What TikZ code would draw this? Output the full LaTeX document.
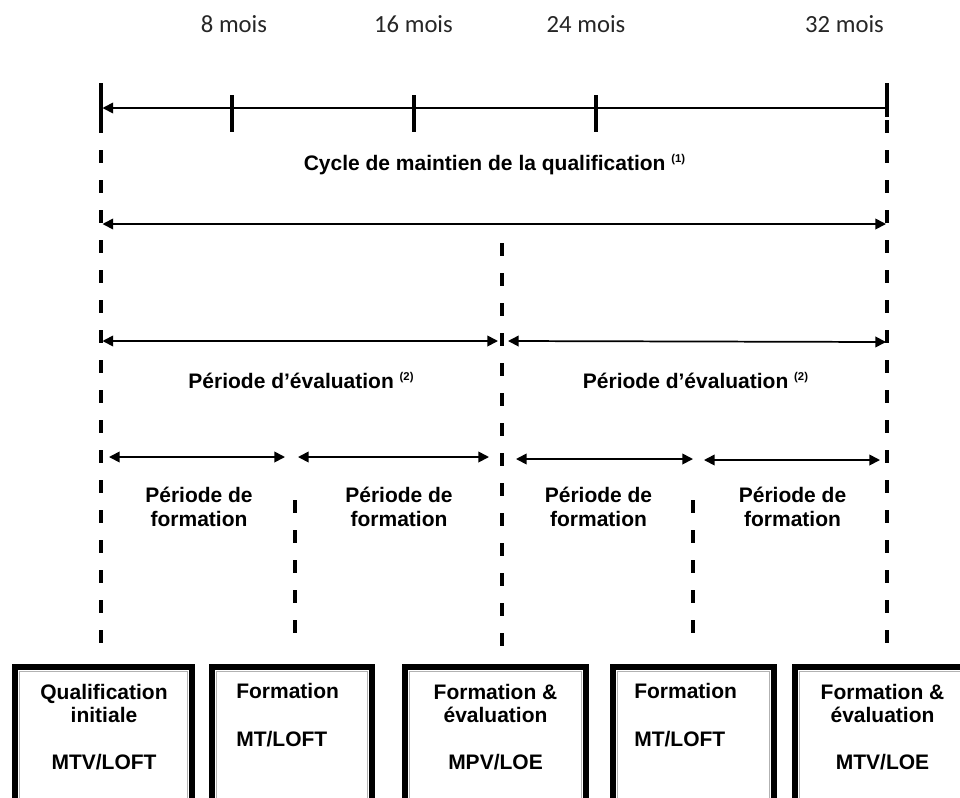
\documentclass[tikz,border=0pt]{standalone}
\usepackage{fontspec}
\setmainfont{Liberation Sans}
\newfontfamily\calib{Carlito}
\usetikzlibrary{arrows.meta}
\newcommand\supr[1]{\raisebox{6pt}{\fontsize{8.5}{9}\selectfont(#1)}}
\begin{document}
\begin{tikzpicture}[x=0.75pt,y=-0.75pt,
  axis/.style={line width=1.3pt},
  tickmark/.style={line width=2.6pt},
  guide/.style={line width=2.4pt, dash pattern=on 9.75pt off 12.75pt},
  span/.style={line width=1.3pt, {Triangle[length=8pt,width=8pt]}-{Triangle[length=8pt,width=8pt]}},
  month/.style={font=\calib\fontsize{18.5}{22}\selectfont, text=black!85, inner sep=0pt, anchor=base},
  lbl/.style={font=\bfseries\fontsize{15.75}{18}\selectfont, inner sep=0pt, anchor=base, align=center},
  boxouter/.style={line width=4.5pt},
  boxinner/.style={line width=0.6pt, draw=gray!60},
  boxtext/.style={font=\bfseries\fontsize{15.75}{17.5}\selectfont, inner sep=0pt, anchor=base},
]
\useasboundingbox (0,0) rectangle (960,797);
\clip (0,0) rectangle (960,797);
\fill[white] (0,0) rectangle (960,797);

% month labels
\node[month] (m8) at (234,32) {8 mois};
\node[month] (m16) at (413.5,32) {16 mois};
\node[month] (m24) at (586,32) {24 mois};
\node[month] (m32) at (844.5,32) {32 mois};

% timeline
\coordinate (t0) at (102.5,108);
\coordinate (t32) at (887,108);
\draw[axis, {Triangle[length=8pt,width=8pt]}-] (t0) -- (t32);
\coordinate (k0a) at (101,83);  \coordinate (k0b) at (101,132);
\coordinate (k1a) at (232,95);  \coordinate (k1b) at (232,132);
\coordinate (k2a) at (414,95);  \coordinate (k2b) at (414,132);
\coordinate (k3a) at (596,95);  \coordinate (k3b) at (596,132);
\coordinate (k4a) at (887,83);  \coordinate (k4b) at (887,117);
\foreach \k in {0,...,4} \draw[tickmark] (k\k a) -- (k\k b);

% dashed guides
\coordinate (g0a) at (101,120); \coordinate (g0b) at (101,646);
\coordinate (g4a) at (887,120); \coordinate (g4b) at (887,646);
\coordinate (g2a) at (502,243); \coordinate (g2b) at (502,646);
\coordinate (g1a) at (295,500); \coordinate (g1b) at (295,646);
\coordinate (g3a) at (693,500); \coordinate (g3b) at (693,646);
\foreach \g in {0,...,4} \draw[guide] (g\g a) -- (g\g b);

% cycle
\node[lbl] (cyc) at (494.5,170) {Cycle de maintien de la qualification \supr{1}};
\coordinate (c0) at (102.5,224); \coordinate (c1) at (886,224);
\draw[span] (c0) -- (c1);

% evaluation periods
\coordinate (e0) at (102.5,341); \coordinate (e1) at (498,341);
\coordinate (e2) at (508,341);   \coordinate (e3) at (886,342);
\draw[span] (e0) -- (e1);
\draw[span] (e2) -- (e3);
\node[lbl] (ev1) at (301,388) {Période d’évaluation \supr{2}};
\node[lbl] (ev2) at (695.5,388) {Période d’évaluation \supr{2}};

% formation periods
\coordinate (f0) at (109,457); \coordinate (f1) at (285,457);
\coordinate (f2) at (298,457); \coordinate (f3) at (489,457);
\coordinate (f4) at (516,459); \coordinate (f5) at (693,459);
\coordinate (f6) at (704,460); \coordinate (f7) at (880,460);
\draw[span] (f0) -- (f1);
\draw[span] (f2) -- (f3);
\draw[span] (f4) -- (f5);
\draw[span] (f6) -- (f7);
\node[lbl] (pf1) at (199,526) {Période de\\formation};
\node[lbl] (pf2) at (399,526) {Période de\\formation};
\node[lbl] (pf3) at (598.5,526) {Période de\\formation};
\node[lbl] (pf4) at (792.5,526) {Période de\\formation};

% boxes
\foreach \a/\b in {15/192, 212/372, 405/586, 613/774, 795/1000}{
  \draw[boxouter] (\a,667) rectangle (\b,830);
  \draw[boxinner] (\a+4.5,671.5) rectangle (\b-4.5,830);
}
\node[boxtext, align=center] (b1) at (104,769) {Qualification\\initiale\\[17.5pt]MTV/LOFT};
\node[boxtext, align=left, anchor=base west] (b2) at (236,746) {Formation\\[18pt]MT/LOFT};
\node[boxtext, align=center] (b3) at (495.5,769) {Formation \&\\évaluation\\[17.5pt]MPV/LOE};
\node[boxtext, align=left, anchor=base west] (b4) at (634,746) {Formation\\[18pt]MT/LOFT};
\node[boxtext, align=center] (b5) at (882.5,769) {Formation \&\\évaluation\\[17.5pt]MTV/LOE};
\end{tikzpicture}
\end{document}
